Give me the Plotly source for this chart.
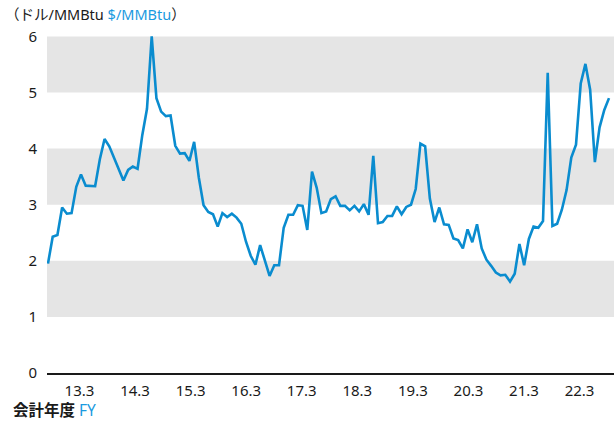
import plotly.graph_objects as go

# Monthly price, Apr 2012 - Mar 2022 ($/MMBtu)
prices = [
    1.95, 2.43, 2.46, 2.95, 2.84, 2.85, 3.32, 3.54, 3.34, 3.33, 3.33, 3.81,
    4.17, 4.04, 3.83, 3.62, 3.43, 3.62, 3.68, 3.64, 4.24, 4.71, 6.00, 4.90,
    4.66, 4.58, 4.59, 4.05, 3.91, 3.92, 3.78, 4.12, 3.48, 2.99, 2.87, 2.83,
    2.61, 2.85, 2.78, 2.84, 2.77, 2.66, 2.34, 2.09, 1.93, 2.28, 1.99, 1.73,
    1.92, 1.92, 2.59, 2.82, 2.82, 2.99, 2.98, 2.55, 3.59, 3.30, 2.85, 2.88,
    3.10, 3.15, 2.98, 2.98, 2.90, 2.98, 2.88, 3.01, 2.82, 3.87, 2.67, 2.69,
    2.80, 2.80, 2.97, 2.83, 2.96, 3.00, 3.28, 4.09, 4.04, 3.11, 2.69, 2.95,
    2.65, 2.64, 2.40, 2.37, 2.22, 2.56, 2.33, 2.65, 2.22, 2.02, 1.91, 1.79,
    1.74, 1.75, 1.63, 1.77, 2.30, 1.92, 2.39, 2.61, 2.59, 2.71, 5.35, 2.62,
    2.66, 2.91, 3.26, 3.84, 4.07, 5.16, 5.51, 5.05, 3.76, 4.38, 4.69, 4.90,
]
months = list(range(len(prices)))

tick_labels = ["13.3", "14.3", "15.3", "16.3", "17.3", "18.3", "19.3", "20.3", "21.3", "22.3"]
tick_positions = [6.68 + 11.786 * k for k in range(len(tick_labels))]

y_ticks = [0, 1, 2, 3, 4, 5, 6]
bands = [(1, 2), (3, 4), (5, 6)]

LINE = "#0a8ccf"
BLUE_TXT = "#1a9ae0"
FONT = "Noto Sans, Noto Sans CJK JP, sans-serif"

fig = go.Figure()
fig.add_trace(go.Scatter(
    x=months, y=prices, mode="lines",
    line=dict(color=LINE, width=2.6),
    hoverinfo="skip", showlegend=False,
))

shapes = []
for lo, hi in bands:
    shapes.append(dict(type="rect", xref="paper", yref="y", x0=0, x1=1, y0=lo, y1=hi,
                       fillcolor="#e5e5e5", line=dict(width=0), layer="below"))

PLOT_H = 422 - 28 - 49

fig.update_layout(
    width=614, height=422,
    margin=dict(l=47, r=0, t=28, b=49, pad=0),
    paper_bgcolor="white", plot_bgcolor="white",
    font=dict(family=FONT, size=14, color="#1a1a1a"),
    shapes=shapes,
    xaxis=dict(
        range=[-0.21, 120.06], showgrid=False, zeroline=False,
        showline=True, linecolor="#1a1a1a", linewidth=2,
        tickmode="array", tickvals=tick_positions, ticktext=tick_labels,
        ticks="", ticklabelstandoff=3, tickfont=dict(size=15),
    ),
    yaxis=dict(
        range=[0, 6.15], showgrid=False, zeroline=False, showline=False,
        tickmode="array", tickvals=y_ticks, ticktext=[str(v) for v in y_ticks],
        ticks="", ticklabelstandoff=9, tickfont=dict(size=15),
    ),
    annotations=[
        dict(xref="paper", yref="paper", x=-44/567, y=1 + 14/PLOT_H,
             xanchor="left", yanchor="middle", showarrow=False,
             text="（ドル/MMBtu <span style='color:%s'>$/MMBtu</span>）" % BLUE_TXT,
             font=dict(size=14.5)),
        dict(xref="paper", yref="paper", x=-36/567, y=-37/PLOT_H,
             xanchor="left", yanchor="middle", showarrow=False,
             text="<b>会計年度</b> <span style='color:%s'>FY</span>" % BLUE_TXT,
             font=dict(size=15.5)),
    ],
)

fig.write_html("out.html", config={"displayModeBar": False},
               post_script="document.body.style.margin='0';")
